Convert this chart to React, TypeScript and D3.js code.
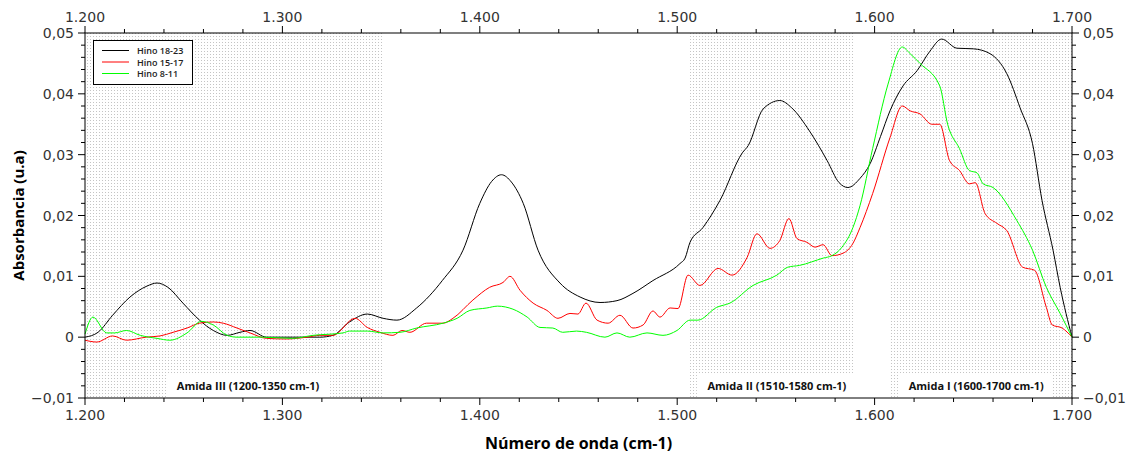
import React from 'react';
import * as d3 from 'd3';

const X_DOMAIN: [number, number] = [1200, 1700];
const Y_DOMAIN: [number, number] = [-0.01, 0.05];
const X_MAJOR = [1200, 1300, 1400, 1500, 1600, 1700];
const Y_MAJOR = [-0.01, 0, 0.01, 0.02, 0.03, 0.04, 0.05];
const SERIES_NAMES = ['Hino 18-23', 'Hino 15-17', 'Hino 8-11'];
const SERIES_COLORS = ['#000000', '#ff0000', '#00ff00'];

const hino1823: [number, number][] = [
  [1200, 0], [1206.6, 0.0008], [1214, 0.0036], [1222.8, 0.0066], [1231.4, 0.0084], [1236.5, 0.0089],
  [1242, 0.0082], [1249.6, 0.0056], [1258, 0.0028], [1265, 0.0011], [1272, 0.0003], [1278.5, 0.0008],
  [1283.6, 0.0011], [1292, 0], [1305, 0], [1319, 0], [1325.6, 0.0003], [1334, 0.0025], [1343, 0.0038],
  [1351, 0.0031], [1358, 0.0028], [1368, 0.0048], [1381, 0.0093], [1391.5, 0.0143], [1400, 0.022],
  [1406, 0.0256], [1411, 0.0267], [1416, 0.0255], [1422, 0.022], [1429.5, 0.0143], [1440.6, 0.0089],
  [1450.8, 0.0066], [1460.9, 0.0057], [1469.5, 0.006], [1477.6, 0.0072], [1487.7, 0.0093], [1501.4, 0.0121],
  [1504, 0.013], [1506.5, 0.0156], [1513, 0.018], [1521.7, 0.0225], [1533, 0.0303], [1536, 0.0315],
  [1543.5, 0.0375], [1552, 0.0389], [1558, 0.0377], [1567, 0.0339], [1576, 0.029], [1582, 0.0254],
  [1586.5, 0.0246], [1592.6, 0.0261], [1597.7, 0.0285], [1603, 0.033], [1607.8, 0.0372], [1614.4, 0.0413],
  [1621.5, 0.0438], [1628, 0.047], [1634, 0.049], [1641.7, 0.0475], [1650, 0.0474], [1658.5, 0.0466],
  [1667, 0.0433], [1673.7, 0.0377], [1680, 0.0318], [1684.8, 0.0225], [1690.4, 0.0143], [1694, 0.0082],
  [1700, 0],
];

const hino1517: [number, number][] = [
  [1200, -0.0005], [1206, -0.0008], [1214, 0.0002], [1221, -0.0005], [1231, 0], [1238, 0.0002],
  [1244.6, 0.0008], [1251.7, 0.0015], [1258, 0.0023], [1265, 0.0025], [1270, 0.0023], [1277, 0.0015],
  [1283.6, 0.0007], [1292, -0.0002], [1302, -0.0003], [1312.5, 0], [1319, 0.0003], [1325.6, 0.0003],
  [1336.8, 0.0031], [1343, 0.0016], [1349.4, 0.0008], [1356, 0.0003], [1360.6, 0.0011], [1364.6, 0.0008],
  [1373, 0.0023], [1381.4, 0.0023], [1386.4, 0.0031], [1396.5, 0.0061], [1405, 0.0082], [1411.8, 0.009],
  [1415.3, 0.01], [1420.4, 0.0077], [1427, 0.0056], [1434, 0.0044], [1439.6, 0.0031], [1445.7, 0.0039],
  [1449.7, 0.0038], [1453.8, 0.0056], [1459.4, 0.0028], [1465, 0.0023], [1471, 0.0036], [1477.6, 0.0015],
  [1482.7, 0.002], [1487.7, 0.0043], [1491.3, 0.0033], [1496.4, 0.0048], [1500.4, 0.0047], [1505.5, 0.0102],
  [1511.5, 0.0085], [1520.7, 0.0113], [1527.8, 0.0102], [1535.4, 0.0131], [1540.4, 0.017], [1547, 0.0146],
  [1552, 0.0159], [1556.6, 0.0195], [1560.7, 0.0162], [1565.7, 0.0156], [1569.8, 0.0148], [1573.9, 0.0152],
  [1578.4, 0.0134], [1584, 0.0138], [1589, 0.0154], [1592.6, 0.018], [1599, 0.0236], [1607.8, 0.0328],
  [1614, 0.038], [1618, 0.0372], [1623, 0.0367], [1629, 0.035], [1633, 0.035], [1638, 0.029],
  [1643, 0.0274], [1648, 0.0252], [1651, 0.0254], [1656, 0.0203], [1662, 0.0187], [1667, 0.0175],
  [1675, 0.0115], [1681, 0.011], [1687, 0.0049], [1690, 0.002], [1695, 0.0015], [1700, 0],
];

const hino811: [number, number][] = [
  [1200, 0.0005], [1204, 0.0033], [1211, 0.0007], [1215, 0.0007], [1221, 0.0011], [1228, 0.0003],
  [1236.5, -0.0002], [1243, -0.0005], [1251.7, 0.0007], [1259, 0.0026], [1265, 0.002], [1272, 0.0003],
  [1277, 0], [1290, 0], [1305, -0.0002], [1315.5, 0.0003], [1330.7, 0.0007], [1334, 0.001], [1343, 0.001],
  [1351, 0.0007], [1359.6, 0.0008], [1368, 0.0015], [1381.4, 0.0023], [1388.5, 0.0031], [1395, 0.0044],
  [1403.6, 0.0048], [1409, 0.0051], [1416.8, 0.0046], [1424, 0.0033], [1430.5, 0.0016], [1437, 0.0015],
  [1442, 0.0008], [1449, 0.001], [1454, 0.0008], [1463.4, 0], [1469.5, 0.0007], [1476, 0], [1484.7, 0.0007],
  [1492.8, 0.0003], [1499.9, 0.0011], [1506.5, 0.0028], [1510.5, 0.0028], [1520, 0.0049], [1526.7, 0.0056],
  [1538.4, 0.0085], [1550.5, 0.0102], [1556, 0.0115], [1562, 0.0118], [1574, 0.013], [1578.4, 0.0134],
  [1583.5, 0.0148], [1589, 0.018], [1592.6, 0.0216], [1599, 0.031], [1606.8, 0.0416], [1614, 0.0477],
  [1618, 0.0466], [1623, 0.045], [1633, 0.0413], [1637, 0.035], [1643, 0.031], [1648, 0.0274],
  [1651.9, 0.027], [1655, 0.0252], [1660, 0.0246], [1672, 0.0192], [1680, 0.0143], [1687, 0.0082],
  [1694, 0.0039], [1700, 0],
];

const SERIES = [hino1823, hino1517, hino811];

const REGION_LABELS = ['Amida III (1200-1350 cm-1)', 'Amida II (1510-1580 cm-1)', 'Amida I (1600-1700 cm-1)'];
const REGION_STARTS = [1200, 1506.5, 1608];
const REGION_ENDS = [1350.5, 1590, 1700];
const REGION_LABEL_CENTERS = [1282.6, 1550.5, 1651.5];

const W = 1131;
const H = 454;
const M = { left: 85, right: 1072, top: 33, bottom: 398 };

const locale = d3.formatLocale({ decimal: ',', thousands: '.', grouping: [3], currency: ['', ''], minus: '\u2212' });
const fmtX = locale.format(',d');
const fmtY = (v: number) => (Math.abs(v) < 1e-9 ? '0' : locale.format('.2f')(v));

export default function App() {
  const x = d3.scaleLinear().domain(X_DOMAIN).range([M.left, M.right]);
  const y = d3.scaleLinear().domain(Y_DOMAIN).range([M.bottom, M.top]);
  const line = d3
    .line<[number, number]>()
    .x((d) => x(d[0]))
    .y((d) => y(d[1]))
    .curve(d3.curveMonotoneX);

  const xMinor = d3.range(1200, 1700.1, 20).filter((v) => v % 100 !== 0);
  const yMinor = d3.range(-0.01, 0.0501, 0.002).filter((v) => Math.abs(Math.round(v * 100) - v * 100) > 1e-6);

  const tickFont = { fontFamily: '"DejaVu Sans", sans-serif', fontSize: 14, fill: '#333' };
  const boxWidths = [164, 160, 153];

  return (
    <div>
      <style>{'body{margin:0}'}</style>
      <svg width={W} height={H} style={{ display: 'block', background: '#fff' }}>
        <defs>
          <pattern id="dots" width={3} height={3} patternUnits="userSpaceOnUse">
            <rect x={0} y={0} width={1} height={1} fill="#c4c4c4" />
          </pattern>
        </defs>
        {REGION_STARTS.map((s, i) => (
          <rect key={'r' + i} x={x(s)} y={M.top} width={x(REGION_ENDS[i]) - x(s)} height={M.bottom - M.top} fill="url(#dots)" />
        ))}
        {REGION_LABELS.map((t, i) => {
          const cx = x(REGION_LABEL_CENTERS[i]);
          return (
            <g key={'l' + i}>
              <rect x={cx - boxWidths[i] / 2} y={M.bottom - 25} width={boxWidths[i]} height={25} fill="#fff" />
              <text x={cx} y={M.bottom - 8} textAnchor="middle" style={{ fontFamily: '"Open Sans", sans-serif', fontWeight: 700, fontSize: 11, fill: '#111' }}>
                {t}
              </text>
            </g>
          );
        })}
        {SERIES.map((s, i) => (
          <path key={'s' + i} d={line(s) || ''} fill="none" stroke={SERIES_COLORS[i]} strokeWidth={1} />
        ))}
        <rect x={M.left} y={M.top} width={M.right - M.left} height={M.bottom - M.top} fill="none" stroke="#000" strokeWidth={1} />
        {X_MAJOR.map((v) => (
          <g key={'xm' + v}>
            <line x1={x(v)} x2={x(v)} y1={M.bottom} y2={M.bottom + 7} stroke="#000" />
            <line x1={x(v)} x2={x(v)} y1={M.top} y2={M.top - 7} stroke="#000" />
            <text x={x(v)} y={M.bottom + 22} textAnchor="middle" style={tickFont}>{fmtX(v)}</text>
            <text x={x(v)} y={M.top - 11} textAnchor="middle" style={tickFont}>{fmtX(v)}</text>
          </g>
        ))}
        {xMinor.map((v) => (
          <g key={'xn' + v}>
            <line x1={x(v)} x2={x(v)} y1={M.bottom} y2={M.bottom + 4} stroke="#000" />
            <line x1={x(v)} x2={x(v)} y1={M.top} y2={M.top - 4} stroke="#000" />
          </g>
        ))}
        {Y_MAJOR.map((v) => (
          <g key={'ym' + v}>
            <line x1={M.left - 7} x2={M.left} y1={y(v)} y2={y(v)} stroke="#000" />
            <line x1={M.right} x2={M.right + 7} y1={y(v)} y2={y(v)} stroke="#000" />
            <text x={M.left - 11} y={y(v) + 5} textAnchor="end" style={tickFont}>{fmtY(v)}</text>
            <text x={M.right + 11} y={y(v) + 5} textAnchor="start" style={tickFont}>{fmtY(v)}</text>
          </g>
        ))}
        {yMinor.map((v, i) => (
          <g key={'yn' + i}>
            <line x1={M.left - 4} x2={M.left} y1={y(v)} y2={y(v)} stroke="#000" />
            <line x1={M.right} x2={M.right + 4} y1={y(v)} y2={y(v)} stroke="#000" />
          </g>
        ))}
        <text
          transform={`translate(24,${(M.top + M.bottom) / 2}) rotate(-90)`}
          textAnchor="middle"
          style={{ fontFamily: '"Open Sans", sans-serif', fontWeight: 700, fontSize: 15, fill: '#000' }}
        >
          Absorbancia (u.a)
        </text>
        <text
          x={(M.left + M.right) / 2}
          y={449}
          textAnchor="middle"
          style={{ fontFamily: '"Open Sans", sans-serif', fontWeight: 700, fontSize: 16, fill: '#000' }}
        >
          Número de onda (cm-1)
        </text>
        <g>
          <rect x={93.5} y={40.5} width={99} height={44} fill="#fff" stroke="#000" strokeWidth={1} />
          {SERIES_NAMES.map((n, i) => (
            <g key={'lg' + i}>
              <line x1={102} x2={129} y1={50.5 + i * 11.5} y2={50.5 + i * 11.5} stroke={SERIES_COLORS[i]} strokeWidth={1} />
              <text x={137} y={54 + i * 11.5} style={{ fontFamily: '"Open Sans", sans-serif', fontWeight: 600, fontSize: 9, fill: '#222' }}>
                {n}
              </text>
            </g>
          ))}
        </g>
      </svg>
    </div>
  );
}
